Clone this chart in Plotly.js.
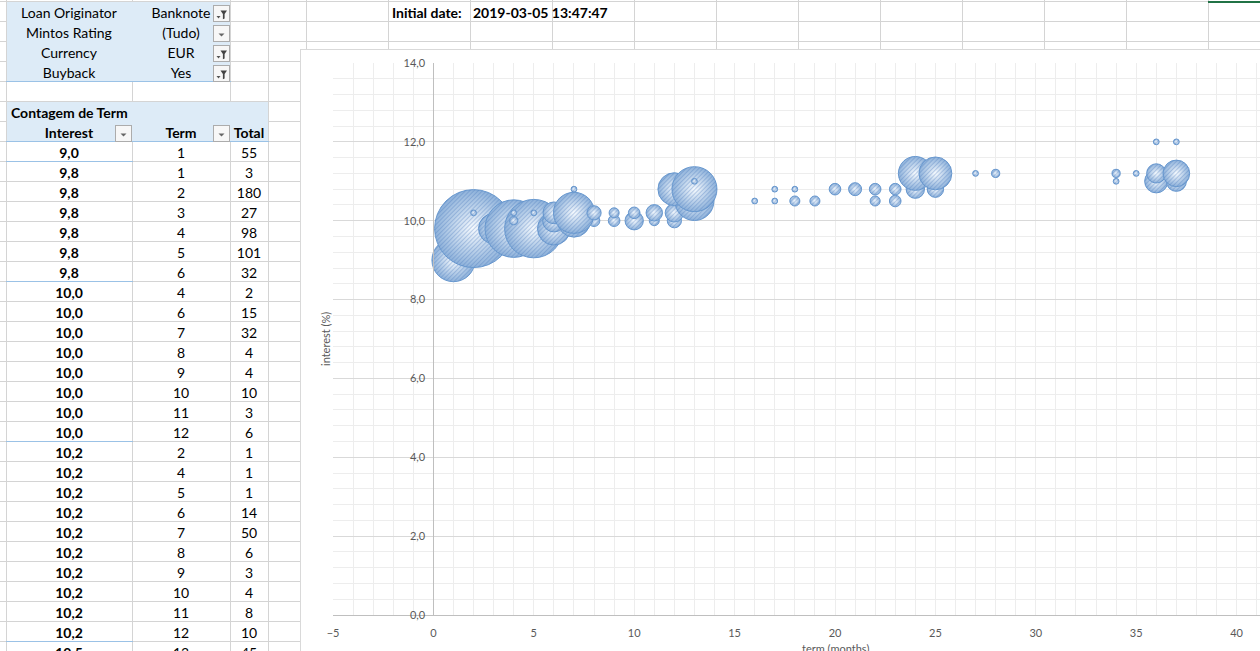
<!DOCTYPE html>
<html><head><meta charset="utf-8">
<script src="https://cdn.plot.ly/plotly-3.0.1.min.js"></script>
<style>
html,body{margin:0;padding:0;width:1260px;height:651px;overflow:hidden;background:#fff;font-family:Lato,"Liberation Sans",sans-serif;}
#sheet{position:absolute;left:0;top:0;width:1260px;height:651px;overflow:hidden;}
#chartbox{position:absolute;left:300px;top:49px;width:1100px;height:640px;background:#fff;border-left:1px solid #d9d9d9;border-top:1px solid #d9d9d9;}
#chart{position:absolute;left:0;top:0;}
</style></head>
<body>
<div id="sheet"></div>
<div id="chartbox"><div id="chart"></div></div>
<script>
// ---- data ----
const filterLabels = ["Loan Originator", "Mintos Rating", "Currency", "Buyback"];
const filterValues = ["Banknote", "(Tudo)", "EUR", "Yes"];
const filterActive = [true, false, true, true];
const pivotTitle = "Contagem de Term";
const headers = ["Interest", "Term", "Total"];
const initialDateLabel = "Initial date:";
const initialDate = "2019-03-05 13:47:47";

const interest = [9.0,
  9.8, 9.8, 9.8, 9.8, 9.8, 9.8,
  10.0, 10.0, 10.0, 10.0, 10.0, 10.0, 10.0, 10.0,
  10.2, 10.2, 10.2, 10.2, 10.2, 10.2, 10.2, 10.2, 10.2, 10.2,
  10.5, 10.5, 10.5, 10.5, 10.5, 10.5, 10.5,
  10.8, 10.8, 10.8, 10.8, 10.8, 10.8, 10.8, 10.8, 10.8, 10.8, 10.8,
  11.0, 11.0, 11.0, 11.0,
  11.2, 11.2, 11.2, 11.2, 11.2, 11.2, 11.2, 11.2,
  12.0, 12.0];
const term = [1,
  1, 2, 3, 4, 5, 6,
  4, 6, 7, 8, 9, 10, 11, 12,
  2, 4, 5, 6, 7, 8, 9, 10, 11, 12,
  13, 16, 17, 18, 19, 22, 23,
  7, 12, 13, 17, 18, 20, 21, 22, 23, 24, 25,
  13, 34, 36, 37,
  24, 25, 27, 28, 34, 35, 36, 37,
  36, 37];
const total = [55,
  3, 180, 27, 98, 101, 32,
  2, 15, 32, 4, 4, 10, 3, 6,
  1, 1, 1, 14, 50, 6, 3, 4, 8, 10,
  45, 1, 1, 3, 3, 3, 4,
  1, 32, 60, 1, 1, 4, 5, 4, 4, 10, 8,
  1, 1, 16, 12,
  34, 32, 1, 2, 2, 1, 11, 21,
  1, 1];

// ---- spreadsheet ----
const sheet = document.getElementById('sheet');
function el(css, html){const d=document.createElement('div');d.style.cssText=css;if(html!==undefined)d.innerHTML=html;sheet.appendChild(d);return d;}
const colX = [6,132,230,268,306];
for(let x=388;x<1260;x+=82) colX.push(x);
const ROW0 = 1, RH = 20;
for(let r=0;r<34;r++) el(`position:absolute;left:0;top:${ROW0+r*RH}px;width:1260px;height:1px;background:#d4d4d4`);
colX.forEach(x=>el(`position:absolute;left:${x}px;top:0;width:1px;height:651px;background:#d4d4d4`));

// pivot fills
el(`position:absolute;left:7px;top:2px;width:223px;height:79px;background:#DDEBF7`);
el(`position:absolute;left:6px;top:81px;width:225px;height:1px;background:#9BC2E6`);
el(`position:absolute;left:7px;top:102px;width:261px;height:39px;background:#DDEBF7`);
el(`position:absolute;left:6px;top:141px;width:263px;height:1px;background:#9BC2E6`);

function txt(s,left,width,row,align,bold){
  el(`position:absolute;left:${left}px;top:${ROW0+row*RH+2}px;width:${width}px;font-size:14px;line-height:20px;height:20px;white-space:nowrap;color:#000;text-align:${align};font-weight:${bold?'bold':'normal'}`, s);
}
function btn(x,row,filtered){
  const y = ROW0+row*RH+4;
  el(`position:absolute;left:${x}px;top:${y}px;width:15px;height:15px;border:1px solid #acacac;background:#f7f7f7;`,
    filtered ? '<svg width="15" height="15"><path d="M2.5 9 L6.5 9 L4.5 11.5 Z" fill="#555"/><path d="M6.5 3.5 L13 3.5 L10.6 7 L10.6 11.5 L8.9 12.3 L8.9 7 Z" fill="#444"/></svg>'
             : '<svg width="15" height="15"><path d="M4.5 6.5 L10.5 6.5 L7.5 9.5 Z" fill="#666"/></svg>');
}
filterLabels.forEach((s,i)=>{ txt(s,6,126,i,'center',false); txt(filterValues[i],132,98,i,'center',false); btn(213,i,filterActive[i]); });
txt(pivotTitle,11,200,5,'left',true);
txt(headers[0],6,126,6,'center',true); btn(115,6,false);
txt(headers[1],132,98,6,'center',true); btn(213,6,false);
txt(headers[2],230,38,6,'center',true);
txt(initialDateLabel,392,90,0,'left',true);
txt(initialDate,473,200,0,'left',true);

const nRows = 26;
for(let i=0;i<nRows;i++){
  const r = 7+i;
  txt(interest[i].toFixed(1).replace('.',','),6,126,r,'center',true);
  txt(String(term[i]),132,98,r,'center',false);
  txt(String(total[i]),230,38,r,'center',false);
  if(i===nRows-1 || interest[i+1]!==interest[i]){
    el(`position:absolute;left:6px;top:${ROW0+(r+1)*RH}px;width:127px;height:1px;background:#9BC2E6`);
  }
}
// selected cell marker top-right
el(`position:absolute;left:1208px;top:1px;width:52px;height:2px;background:#217346`);

// ---- chart ----
const xRange = [-5, 45], yRange = [0, 14];
const maxBubblePx = 78;
const gridMinor = '#ededed', gridMajor = '#d9d9d9', axisCol = '#bfbfbf', textCol = '#595959';
const fontFam = 'Lato, "Liberation Sans", sans-serif';

const trace = {
  type:'scatter', mode:'markers', x: term, y: interest,
  cliponaxis:false, hoverinfo:'skip',
  marker:{
    size: total, sizemode:'area', sizeref: 2*Math.max(...total)/(maxBubblePx*maxBubblePx),
    color:'#8db1da', gradient:{type:'radial', color:'#f6fafe'},
    line:{color:'#6a9ad0', width:1}, opacity:1
  }
};
const layout = {
  width:1060, height:620,
  margin:{l:32, r:24, t:13, b:55},
  paper_bgcolor:'rgba(0,0,0,0)', plot_bgcolor:'#fff',
  separators:', ', showlegend:false, hovermode:false,
  font:{family:fontFam, size:11, color:textCol},
  xaxis:{range:xRange, tick0:0, dtick:5, ticks:'', showgrid:true, gridcolor:gridMinor, gridwidth:1,
    minor:{dtick:1, showgrid:true, gridcolor:gridMinor}, zeroline:false, showline:true, linecolor:axisCol,
    ticklabelstandoff:8, fixedrange:true},
  yaxis:{range:yRange, dtick:2, tickformat:'.1f', ticks:'', showgrid:true, gridcolor:gridMajor,
    minor:{dtick:0.4, showgrid:true, gridcolor:gridMinor}, zeroline:false, showline:true, linecolor:axisCol,
    anchor:'free', position:(0-xRange[0])/(xRange[1]-xRange[0]), ticklabelstandoff:6, fixedrange:true},
  annotations:[
    {text:'term (months)', xref:'paper', yref:'paper', x:0.5, y:0, yanchor:'middle', yshift:-33, showarrow:false, font:{size:11, color:textCol}},
    {text:'interest (%)', xref:'paper', yref:'paper', x:0, y:0.5, xanchor:'center', xshift:-8, textangle:-90, showarrow:false, font:{size:11, color:textCol}}
  ]
};
Plotly.newPlot('chart', [trace], layout, {displayModeBar:false, staticPlot:true}).then(gd=>{
  // diagonal hatch texture over each bubble (Excel pattern fill look)
  const NS='http://www.w3.org/2000/svg';
  const svg = gd.querySelector('svg.main-svg');
  let defs = svg.querySelector('defs');
  if(!defs){defs=document.createElementNS(NS,'defs');svg.insertBefore(defs,svg.firstChild);}
  const pat=document.createElementNS(NS,'pattern');
  pat.setAttribute('id','bubbleHatch');pat.setAttribute('patternUnits','userSpaceOnUse');
  pat.setAttribute('width','3');pat.setAttribute('height','3');
  pat.setAttribute('patternTransform','rotate(45)');
  const ln=document.createElementNS(NS,'line');
  ln.setAttribute('x1','0.5');ln.setAttribute('y1','0');ln.setAttribute('x2','0.5');ln.setAttribute('y2','3');
  ln.setAttribute('stroke','rgba(70,118,186,0.32)');ln.setAttribute('stroke-width','1');
  pat.appendChild(ln);defs.appendChild(pat);
  gd.querySelectorAll('.scatterlayer path.point').forEach(p=>{
    const c=p.cloneNode(true);
    c.style.fill='url(#bubbleHatch)';c.style.stroke='none';c.style.fillOpacity='1';
    p.parentNode.insertBefore(c,p.nextSibling);
  });
});
</script>
</body></html>
